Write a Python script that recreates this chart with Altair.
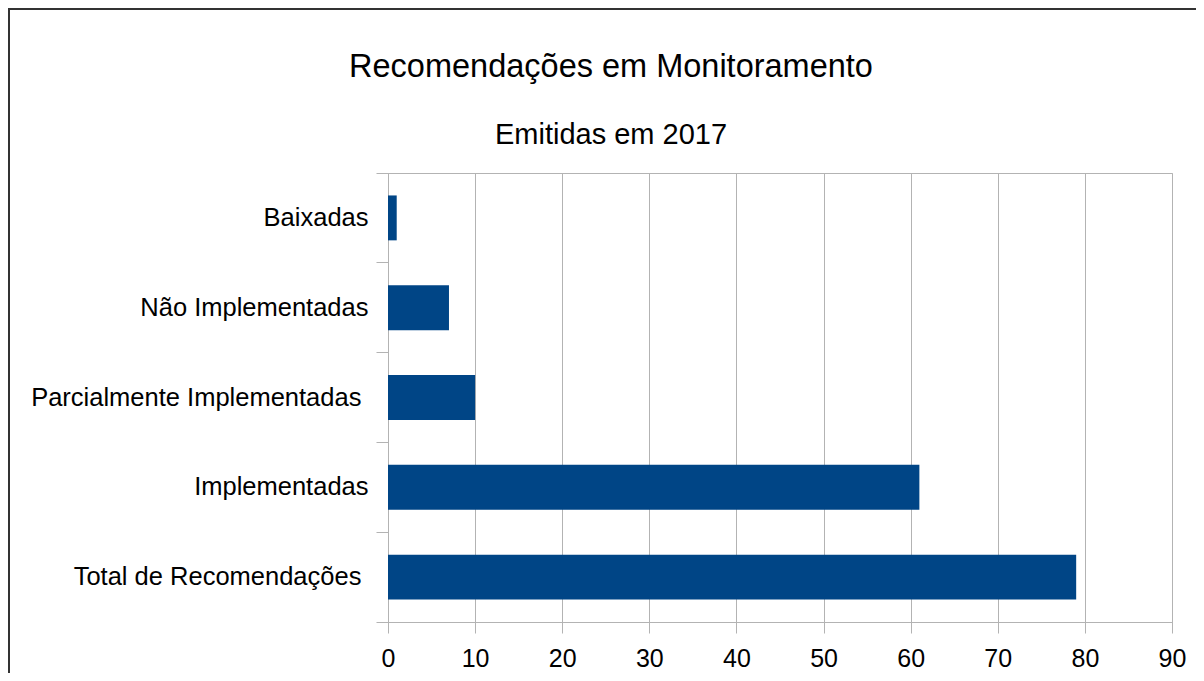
import altair as alt
import pandas as pd

categories = [
    "Baixadas",
    "Não Implementadas",
    "Parcialmente Implementadas",
    "Implementadas",
    "Total de Recomendações",
]
values = [1, 7, 10, 61, 79]
x_ticks = [0, 10, 20, 30, 40, 50, 60, 70, 80, 90]

df = pd.DataFrame({"categoria": categories, "quantidade": values})

W, H = 784, 449
PAD_L, PAD_T = 380, 165
FONT = "Liberation Sans"
GRAY = "#b3b3b3"

label_expr = (
    "datum.value == 'Total de Recomendações' || datum.value == 'Parcialmente Implementadas'"
    " ? datum.value + '\u00a0\u200b' : datum.value"
)

bars = alt.Chart(df).mark_bar(
    color="#004586", height=alt.RelativeBandSize(0.5)
).encode(
    x=alt.X(
        "quantidade:Q",
        scale=alt.Scale(domain=[0, 90], nice=False),
        axis=alt.Axis(
            values=x_ticks, title=None, grid=True, gridColor=GRAY,
            domainColor=GRAY, tickColor=GRAY, tickSize=11,
            labelFontSize=25, labelColor="black", labelPadding=13,
            labelFont=FONT, labelFlush=False,
        ),
    ),
    y=alt.Y(
        "categoria:N",
        sort=categories,
        scale=alt.Scale(paddingInner=0, paddingOuter=0),
        axis=alt.Axis(
            title=None, bandPosition=1, tickExtra=True, tickSize=12,
            grid=False, domainColor=GRAY, tickColor=GRAY,
            labelFontSize=25.5, labelColor="black", labelPadding=8,
            labelFont=FONT, labelExpr=label_expr, labelLimit=400,
        ),
    ),
)

frame_data = alt.Data(values=[{}])
left_line = alt.Chart(frame_data).mark_rule(color="#333333", strokeWidth=2).encode(
    x=alt.value(-PAD_L + 1), y=alt.value(-PAD_T), y2=alt.value(H + 60)
)
top_line = alt.Chart(frame_data).mark_rule(color="#333333", strokeWidth=2).encode(
    x=alt.value(-PAD_L), x2=alt.value(W + 30), y=alt.value(-PAD_T + 1)
)

chart = alt.layer(bars, left_line, top_line).properties(
    width=W,
    height=H,
    padding={"left": PAD_L, "top": PAD_T, "right": 24, "bottom": 51},
    autosize=alt.AutoSizeParams(type="none"),
    title=alt.TitleParams(
        text="Recomendações em Monitoramento",
        subtitle="Emitidas em 2017",
        font=FONT, subtitleFont=FONT,
        fontSize=32.5, subtitleFontSize=29,
        fontWeight="normal", color="black", subtitleColor="black",
        anchor="middle", frame="group", dx=-169, offset=-143,
        subtitlePadding=38,
    ),
).configure_view(stroke=GRAY, strokeWidth=1)

chart.save("out.html", embed_options={"renderer": "svg", "actions": False})
